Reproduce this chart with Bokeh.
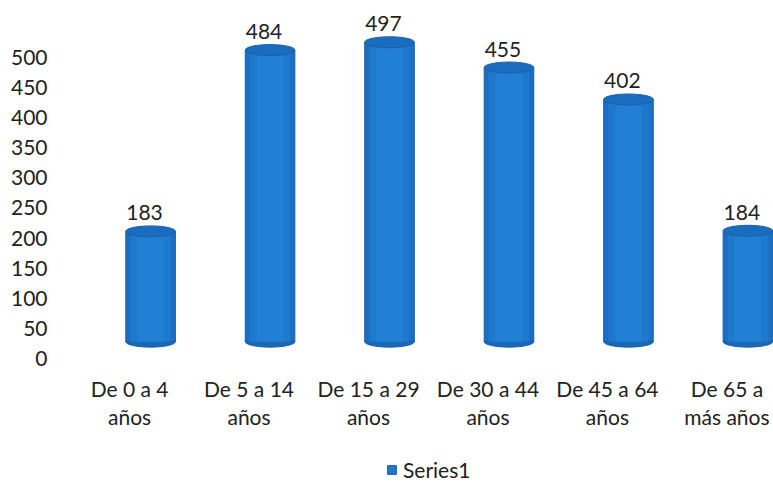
from bokeh.plotting import figure
from bokeh.layouts import column
from bokeh.models import Range1d, FixedTicker, Legend, LegendItem, ColumnDataSource
from bokeh.core.properties import value
from bokeh.embed import file_html
from bokeh.resources import INLINE

categories = ["De 0 a 4\naños", "De 5 a 14\naños", "De 15 a 29\naños",
              "De 30 a 44\naños", "De 45 a 64\naños", "De 65 a\nmás años"]
values = [183, 484, 497, 455, 402, 184]
y_ticks = [0, 50, 100, 150, 200, 250, 300, 350, 400, 450, 500]
series_name = "Series1"

FONT = "Lato"
FS = "21px"
BAR_FILL = "#1a6fc4"
BAR_LINE = "#1a5fa8"
idx = list(range(len(categories)))
bar_x = [i + 0.176 for i in idx]
label_x = [i + 0.125 for i in idx]
zeros = [0] * len(values)

src = ColumnDataSource(dict(x=bar_x, lx=label_x, top=values, zero=zeros,
                            txt=[str(v) for v in values]))

p = figure(width=773, height=440,
           output_backend="svg", toolbar_location=None,
           x_range=Range1d(-0.62, 5.39), y_range=Range1d(-11.6, 581),
           min_border_left=55, min_border_right=0, min_border_top=8,
           min_border_bottom=75, outline_line_color=None,
           background_fill_color="white", border_fill_color="white")

# 3D floor offset for cylinders
p.extra_y_ranges = {"bars": Range1d(-39.6, 553)}

# axes
p.yaxis.ticker = FixedTicker(ticks=y_ticks)
p.yaxis.axis_line_color = None
p.yaxis.major_tick_line_color = None
p.yaxis.minor_tick_line_color = None
p.yaxis.major_label_text_font = FONT
p.yaxis.major_label_text_font_size = FS
p.yaxis.major_label_text_color = "#222222"
p.yaxis.major_label_standoff = 2

p.xaxis.ticker = FixedTicker(ticks=idx)
p.xaxis.major_label_overrides = {i: c for i, c in zip(idx, categories)}
p.xaxis.axis_line_color = None
p.xaxis.major_tick_line_color = None
p.xaxis.minor_tick_line_color = None
p.xaxis.major_label_text_font = FONT
p.xaxis.major_label_text_font_size = FS
p.xaxis.major_label_text_color = "#222222"
p.xaxis.major_label_text_line_height = 1.13
p.xaxis.major_label_standoff = 4

p.xgrid.visible = False
p.ygrid.visible = False

W = 0.415
# bottom ellipse
p.ellipse(x="x", y="zero", width=W, height=11, height_units="screen",
          source=src, fill_color="#1a68b8", line_color=BAR_LINE, y_range_name="bars")
# body
p.vbar(x="x", bottom="zero", top="top", width=W, source=src,
       fill_color=BAR_FILL, line_color=BAR_LINE, line_width=1, y_range_name="bars")
# highlight shading
p.vbar(x="x", bottom="zero", top="top", width=W * 0.82, source=src,
       fill_color="#1e78cc", line_color=None, y_range_name="bars")
p.vbar(x="x", bottom="zero", top="top", width=W * 0.55, source=src,
       fill_color="#2180d4", line_color=None, y_range_name="bars")
# top ellipse
p.ellipse(x="x", y="top", width=W, height=11, height_units="screen",
          source=src, fill_color="#1a6cbe", line_color=BAR_LINE, y_range_name="bars")

# value labels
p.text(x="lx", y="top", text="txt", source=src, y_range_name="bars",
       text_font=value(FONT), text_font_size=FS, text_color="#222222",
       text_align="center", text_baseline="bottom", y_offset=-11)

# legend strip (its swatch renderer sits outside the visible range)
lg = figure(width=773, height=44, output_backend="svg", toolbar_location=None,
            x_range=Range1d(0, 1), y_range=Range1d(0, 1),
            x_axis_location=None, y_axis_location=None,
            min_border=0, outline_line_color=None,
            background_fill_color="white", border_fill_color="white")
lg.grid.visible = False
swatch = lg.rect(x=[-5], y=[-5], width=1, height=1,
                 fill_color="#1f78cc", line_color=BAR_LINE)
legend = Legend(items=[LegendItem(label=series_name, renderers=[swatch])],
                orientation="horizontal", location=(331, 2),
                label_text_font=FONT, label_text_font_size=FS,
                label_text_color="#222222", glyph_width=11, glyph_height=11,
                label_standoff=6, border_line_color=None, background_fill_alpha=0,
                padding=0, margin=0, spacing=0)
lg.add_layout(legend, "center")

layout = column(p, lg, spacing=0)
open("out.html", "w").write(file_html(layout, INLINE))
